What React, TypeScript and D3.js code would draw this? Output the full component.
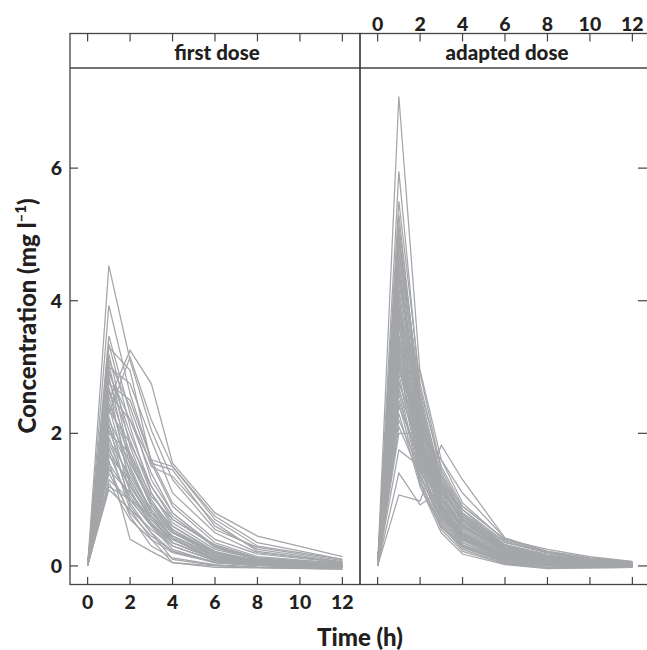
import React from "react";
import * as d3 from "d3";

const panels = ["first dose", "adapted dose"];
const timesFirst = [0, 1, 2, 3, 4, 6, 8, 12];
const timesAdapted = [0, 1, 2, 3, 4, 6, 8, 10, 12];
const xTicks = [0, 2, 4, 6, 8, 10, 12];
const yTicks = [0, 2, 4, 6];

const firstDose: number[][] = [
  [0, 4.53, 3.10, 2.05, 1.30, 0.55, 0.28, 0.08],
  [0, 3.93, 2.60, 1.60, 0.95, 0.40, 0.18, 0.05],
  [0, 3.47, 2.30, 1.30, 0.80, 0.30, 0.12, 0.03],
  [0, 2.50, 3.25, 2.75, 1.55, 0.80, 0.45, 0.14],
  [0, 2.30, 3.15, 2.20, 1.50, 0.70, 0.30, 0.10],
  [0, 3.30, 2.95, 1.55, 1.45, 0.60, 0.25, 0.06],
  [0, 3.35, 2.10, 1.10, 0.65, 0.25, 0.10, 0.02],
  [0, 3.20, 1.80, 1.00, 0.55, 0.20, 0.08, 0.02],
  [0, 3.10, 2.40, 1.50, 1.35, 0.65, 0.22, 0.05],
  [0, 3.05, 1.60, 0.90, 0.50, 0.18, 0.06, 0.01],
  [0, 2.95, 2.00, 1.20, 0.70, 0.30, 0.10, 0.03],
  [0, 2.85, 1.50, 0.80, 0.45, 0.15, 0.05, 0.0],
  [0, 2.80, 1.90, 1.10, 0.60, 0.22, 0.08, 0.02],
  [0, 2.70, 1.20, 0.70, 0.40, 0.12, 0.04, 0.0],
  [0, 2.65, 1.70, 0.95, 0.52, 0.20, 0.07, 0.02],
  [0, 2.60, 2.20, 1.55, 0.90, 0.35, 0.14, 0.04],
  [0, 2.55, 1.40, 0.85, 0.40, 0.10, 0.03, -0.02],
  [0, 2.45, 1.65, 0.90, 0.55, 0.18, 0.05, 0.01],
  [0, 2.40, 1.30, 0.75, 0.35, 0.12, 0.03, 0.0],
  [0, 2.35, 1.85, 1.20, 0.75, 0.28, 0.10, 0.03],
  [0, 2.25, 1.10, 0.65, 0.30, 0.08, 0.02, -0.01],
  [0, 2.20, 1.55, 0.95, 0.60, 0.20, 0.06, 0.02],
  [0, 2.15, 0.90, 0.50, 0.10, 0.01, -0.02, -0.04],
  [0, 2.10, 1.45, 0.80, 0.45, 0.15, 0.05, 0.01],
  [0, 2.05, 1.25, 0.70, 0.35, 0.10, 0.03, 0.0],
  [0, 2.00, 1.70, 1.05, 0.70, 0.32, 0.12, 0.04],
  [0, 1.95, 1.00, 0.60, 0.30, 0.08, 0.02, 0.0],
  [0, 1.90, 1.35, 0.85, 0.50, 0.16, 0.05, 0.02],
  [0, 1.85, 1.15, 0.60, 0.25, 0.05, 0.0, -0.02],
  [0, 1.80, 0.85, 0.40, 0.05, -0.02, -0.03, -0.05],
  [0, 1.75, 1.20, 0.75, 0.42, 0.14, 0.04, 0.01],
  [0, 1.70, 0.95, 0.50, 0.22, 0.05, 0.01, -0.02],
  [0, 1.65, 1.30, 0.80, 0.50, 0.20, 0.08, 0.03],
  [0, 1.60, 0.40, 0.22, 0.05, 0.0, -0.02, -0.03],
  [0, 1.55, 1.05, 0.65, 0.35, 0.10, 0.03, 0.0],
  [0, 1.50, 0.75, 0.30, 0.12, 0.02, -0.02, -0.05],
  [0, 1.45, 1.10, 0.70, 0.40, 0.12, 0.04, 0.01],
  [0, 1.40, 0.80, 0.45, 0.22, 0.06, 0.01, -0.01],
  [0, 1.30, 1.00, 0.62, 0.35, 0.10, 0.03, 0.0],
  [0, 1.25, 0.70, 0.40, 0.20, 0.05, 0.01, -0.02],
  [0, 1.20, 1.00, 0.75, 0.45, 0.16, 0.06, 0.02],
  [0, 1.15, 0.85, 0.55, 0.30, 0.08, 0.02, -0.01],
  [0, 2.75, 2.50, 1.60, 1.50, 0.75, 0.35, 0.10],
  [0, 3.00, 2.75, 1.90, 1.10, 0.50, 0.20, 0.06],
  [0, 2.90, 2.20, 1.40, 0.80, 0.28, 0.09, 0.02],
];

const adaptedDose: number[][] = [
  [0, 7.08, 2.90, 1.45, 0.85, 0.30, 0.15, 0.08, 0.04],
  [0, 5.95, 2.60, 1.30, 0.75, 0.25, 0.12, 0.06, 0.03],
  [0, 5.50, 2.75, 1.40, 0.80, 0.35, 0.20, 0.10, 0.05],
  [0, 5.30, 2.40, 1.20, 0.70, 0.22, 0.10, 0.05, 0.02],
  [0, 5.15, 2.50, 1.25, 0.65, 0.28, 0.14, 0.07, 0.03],
  [0, 5.05, 2.20, 1.10, 0.60, 0.20, 0.09, 0.04, 0.01],
  [0, 4.95, 2.65, 1.50, 0.90, 0.40, 0.22, 0.12, 0.06],
  [0, 4.90, 2.30, 1.05, 0.55, 0.18, 0.08, 0.03, 0.01],
  [0, 4.85, 2.45, 1.35, 0.78, 0.30, 0.16, 0.08, 0.04],
  [0, 4.75, 2.10, 1.00, 0.50, 0.15, 0.06, 0.02, 0.0],
  [0, 4.70, 2.55, 1.20, 0.72, 0.26, 0.13, 0.06, 0.03],
  [0, 4.60, 2.00, 0.95, 0.45, 0.12, 0.05, 0.02, 0.0],
  [0, 4.50, 2.35, 1.15, 0.68, 0.24, 0.11, 0.05, 0.02],
  [0, 4.45, 1.95, 0.90, 0.42, 0.10, 0.03, 0.01, -0.01],
  [0, 4.40, 2.25, 1.10, 0.62, 0.22, 0.10, 0.05, 0.02],
  [0, 4.35, 2.05, 0.85, 0.40, 0.12, 0.05, 0.02, 0.0],
  [0, 4.30, 2.40, 1.30, 0.80, 0.32, 0.18, 0.09, 0.04],
  [0, 4.20, 1.90, 0.88, 0.44, 0.14, 0.06, 0.02, 0.01],
  [0, 4.10, 2.15, 1.05, 0.58, 0.20, 0.09, 0.04, 0.02],
  [0, 4.05, 1.80, 0.80, 0.35, 0.08, 0.02, 0.0, -0.01],
  [0, 3.95, 2.20, 1.15, 0.65, 0.26, 0.13, 0.06, 0.03],
  [0, 3.90, 1.85, 0.92, 0.48, 0.15, 0.06, 0.03, 0.01],
  [0, 3.85, 2.30, 1.25, 0.75, 0.30, 0.15, 0.08, 0.04],
  [0, 3.80, 1.70, 0.75, 0.32, 0.06, 0.0, -0.02, -0.01],
  [0, 3.75, 2.00, 1.00, 0.55, 0.18, 0.08, 0.04, 0.02],
  [0, 3.65, 1.75, 0.85, 0.42, 0.12, 0.04, 0.02, 0.0],
  [0, 3.60, 2.10, 1.20, 0.70, 0.28, 0.14, 0.07, 0.03],
  [0, 3.50, 1.65, 0.78, 0.38, 0.10, 0.03, 0.01, -0.01],
  [0, 3.45, 1.95, 1.00, 0.60, 0.22, 0.10, 0.05, 0.02],
  [0, 3.40, 1.55, 0.70, 0.30, 0.05, -0.02, -0.03, -0.02],
  [0, 3.35, 1.85, 0.95, 0.52, 0.18, 0.08, 0.04, 0.02],
  [0, 3.30, 2.05, 1.25, 0.85, 0.36, 0.20, 0.10, 0.05],
  [0, 3.25, 1.60, 0.80, 0.40, 0.12, 0.05, 0.02, 0.0],
  [0, 3.20, 1.80, 0.90, 0.50, 0.16, 0.07, 0.03, 0.01],
  [0, 3.15, 1.50, 0.65, 0.28, 0.06, 0.0, -0.01, -0.01],
  [0, 3.10, 1.90, 1.05, 0.62, 0.24, 0.12, 0.06, 0.03],
  [0, 3.05, 1.45, 0.72, 0.35, 0.10, 0.03, 0.01, 0.0],
  [0, 3.00, 1.70, 0.88, 0.46, 0.15, 0.06, 0.03, 0.01],
  [0, 2.95, 2.10, 1.35, 0.90, 0.40, 0.25, 0.14, 0.07],
  [0, 2.90, 1.40, 0.60, 0.25, 0.04, -0.03, -0.02, -0.01],
  [0, 2.80, 1.60, 0.82, 0.42, 0.14, 0.05, 0.02, 0.01],
  [0, 2.75, 1.95, 1.15, 0.70, 0.30, 0.16, 0.08, 0.04],
  [0, 2.70, 1.35, 0.68, 0.32, 0.08, 0.02, 0.0, 0.0],
  [0, 2.65, 1.75, 1.00, 0.58, 0.22, 0.10, 0.05, 0.02],
  [0, 2.60, 1.30, 0.55, 0.22, 0.03, -0.02, -0.02, -0.01],
  [0, 2.50, 1.55, 0.85, 0.48, 0.16, 0.07, 0.03, 0.01],
  [0, 2.45, 1.25, 0.62, 0.30, 0.08, 0.02, 0.01, 0.0],
  [0, 2.40, 1.65, 1.10, 0.75, 0.32, 0.16, 0.08, 0.04],
  [0, 2.30, 1.20, 0.58, 0.28, 0.06, 0.01, 0.0, -0.01],
  [0, 2.20, 1.45, 0.80, 0.45, 0.15, 0.06, 0.03, 0.01],
  [0, 2.10, 1.35, 0.75, 0.40, 0.12, 0.04, 0.02, 0.0],
  [0, 2.00, 2.00, 1.60, 1.10, 0.42, 0.22, 0.12, 0.06],
  [0, 1.75, 1.50, 1.00, 0.62, 0.25, 0.12, 0.06, 0.03],
  [0, 1.40, 0.92, 1.15, 0.70, 0.28, 0.14, 0.07, 0.03],
  [0, 1.07, 0.98, 1.82, 1.30, 0.42, 0.20, 0.10, 0.05],
  [0, 2.85, 2.95, 1.60, 0.95, 0.38, 0.20, 0.10, 0.05],
  [0, 3.70, 1.20, 0.50, 0.18, 0.02, -0.04, -0.03, -0.02],
];

const W = 647;
const H = 650;
const panelW = 290;
const left0 = 70;
const stripTop = 33.5;
const stripBottom = 68;
const plotBottom = 584.5;
const font = "Lato, 'Open Sans', sans-serif";
const axisColor = "#444";
const textColor = "#231f20";
const lineColor = "#a4a6a9";

export default function App() {
  const y = d3.scaleLinear().domain([-0.28, 7.51]).range([plotBottom, stripBottom]);
  const xFor = (i: number) =>
    d3.scaleLinear().domain([-0.83, 12.83]).range([left0 + i * panelW, left0 + (i + 1) * panelW]);
  const datasets = [
    { times: timesFirst, rows: firstDose },
    { times: timesAdapted, rows: adaptedDose },
  ];
  return (
    <svg width={W} height={H} style={{ position: "absolute", left: 0, top: 0, background: "#fff" }}>
      <rect x={0} y={0} width={W} height={H} fill="#fff" />
      {panels.map((name, i) => {
        const x = xFor(i);
        const { times, rows } = datasets[i];
        const line = d3
          .line<number>()
          .x((_, k) => x(times[k]))
          .y((v) => y(v));
        const x0 = left0 + i * panelW;
        const x1 = x0 + panelW;
        return (
          <g key={name}>
            <g>
              {rows.map((r, k) => (
                <path key={k} d={line(r) || ""} fill="none" stroke={lineColor} strokeWidth={1.25} strokeLinejoin="miter" />
              ))}
            </g>
            <rect x={x0} y={stripTop} width={panelW} height={plotBottom - stripTop} fill="none" stroke={axisColor} strokeWidth={1.3} />
            <line x1={x0} x2={x1} y1={stripBottom} y2={stripBottom} stroke={axisColor} strokeWidth={1.3} />
            <text x={(x0 + x1) / 2 + 2} y={stripBottom - 8} textAnchor="middle" fontFamily={font} fontWeight={900} fontSize={20.5} fill={textColor}>
              {name}
            </text>
            {xTicks.map((t) => (
              <line key={"tt" + t} x1={x(t)} x2={x(t)} y1={stripTop} y2={stripTop + 8} stroke={axisColor} strokeWidth={1.2} />
            ))}
            {xTicks.map((t) => (
              <line key={"bt" + t} x1={x(t)} x2={x(t)} y1={plotBottom} y2={plotBottom - 7.5} stroke={axisColor} strokeWidth={1.2} />
            ))}
            {i === 0 &&
              xTicks.map((t) => (
                <text key={"bl" + t} x={x(t)} y={plotBottom + 24} textAnchor="middle" fontFamily={font} fontWeight={900} fontSize={19.5} fill={textColor}>
                  {t}
                </text>
              ))}
            {i === 1 &&
              xTicks.map((t) => (
                <text key={"tl" + t} x={x(t)} y={stripTop - 3} textAnchor="middle" fontFamily={font} fontWeight={900} fontSize={19.5} fill={textColor}>
                  {t}
                </text>
              ))}
            {i === 0 &&
              yTicks.map((t) => (
                <g key={"yl" + t}>
                  <line x1={x0} x2={x0 + 8} y1={y(t)} y2={y(t)} stroke={axisColor} strokeWidth={1.2} />
                  <text x={62} y={y(t) + 7} textAnchor="end" fontFamily={font} fontWeight={900} fontSize={19.5} fill={textColor}>
                    {t}
                  </text>
                </g>
              ))}
            {i === 1 &&
              yTicks.map((t) => (
                <line key={"yr" + t} x1={x1 - 10} x2={x1} y1={y(t)} y2={y(t)} stroke={axisColor} strokeWidth={1.2} transform="translate(-2,0)" />
              ))}
          </g>
        );
      })}
      <text x={360} y={646} textAnchor="middle" fontFamily={font} fontWeight={900} fontSize={24} fill={textColor}>
        Time (h)
      </text>
      <text
        transform={`translate(36, 316) rotate(-90)`}
        textAnchor="middle"
        fontFamily={font}
        fontWeight={900}
        fontSize={24}
        fill={textColor}
      >
        <tspan>Concentration (mg l</tspan>
        <tspan dy={-10} fontSize={15}>–1</tspan>
        <tspan dy={10}>)</tspan>
      </text>
    </svg>
  );
}
